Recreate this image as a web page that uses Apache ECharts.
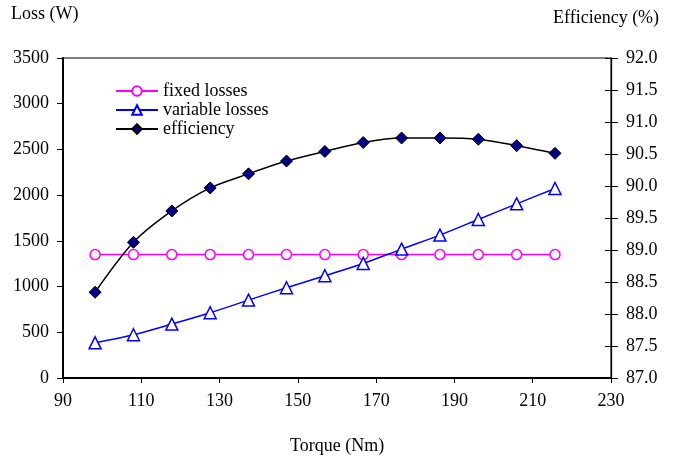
<!DOCTYPE html>
<html><head><meta charset="utf-8">
<script src="https://cdn.jsdelivr.net/npm/echarts@6/dist/echarts.min.js"></script>
<style>html,body{margin:0;padding:0;background:#fff}#c{width:676px;height:458px}</style>
</head><body><div id="c"></div>
<script>
var torque = [98.2, 108.0, 117.8, 127.6, 137.4, 147.1, 156.9, 166.7, 176.5, 186.3, 196.1, 205.9, 215.7];
var fixedLosses = [1350, 1350, 1350, 1350, 1350, 1350, 1350, 1350, 1350, 1350, 1350, 1350, 1350];
var variableLosses = [385, 473, 590, 714, 852, 987, 1118, 1253, 1410, 1563, 1734, 1905, 2073];
var efficiency = [88.34, 89.12, 89.61, 89.97, 90.19, 90.39, 90.54, 90.68, 90.75, 90.75, 90.73, 90.63, 90.51];
var xTicks = [90, 110, 130, 150, 170, 190, 210, 230];
var lossTicks = [0, 500, 1000, 1500, 2000, 2500, 3000, 3500];
var effTicks = [87.0, 87.5, 88.0, 88.5, 89.0, 89.5, 90.0, 90.5, 91.0, 91.5, 92.0];

function pairs(ys){ return torque.map(function(x,i){ return [x, ys[i]]; }); }
var FONT = 'Liberation Serif';
var chart = echarts.init(document.getElementById('c'), null, {renderer:'canvas'});
chart.setOption({
  animation:false,
  backgroundColor:'#fff',
  textStyle:{fontFamily:FONT},
  grid:{left:63, right:65, top:58, bottom:80, show:true, borderColor:'#000', borderWidth:1, containLabel:false},
  legend:{
    left:115, top:82, orient:'vertical', itemWidth:42, itemHeight:12, itemGap:1,
    padding:0,
    textStyle:{fontFamily:FONT, fontSize:18, lineHeight:18, color:'#000', padding:[0,0,0,0]},
    data:['fixed losses','variable losses','efficiency']
  },
  xAxis:{
    type:'value', min:xTicks[0], max:xTicks[xTicks.length-1], interval:20,
    axisLine:{lineStyle:{color:'#000', width:2}},
    axisTick:{show:true, length:5, lineStyle:{color:'#000'}},
    axisLabel:{fontFamily:FONT, fontSize:18, color:'#000', margin:14},
    splitLine:{show:false}
  },
  yAxis:[{
    type:'value', min:lossTicks[0], max:lossTicks[lossTicks.length-1], interval:500, position:'left',
    axisLine:{show:true, lineStyle:{color:'#000', width:2}},
    axisTick:{show:true, length:6, lineStyle:{color:'#000'}},
    axisLabel:{fontFamily:FONT, fontSize:18, color:'#000', margin:14, formatter:function(v){return String(v);}},
    splitLine:{show:false}
  },{
    type:'value', min:effTicks[0], max:effTicks[effTicks.length-1], interval:0.5, position:'right',
    axisLine:{show:true, lineStyle:{color:'#000', width:1.3}},
    axisTick:{show:true, length:7, lineStyle:{color:'#000'}},
    axisLabel:{fontFamily:FONT, fontSize:18, color:'#000', margin:15, formatter:function(v){return v.toFixed(1);}},
    splitLine:{show:false}
  },{
    type:'value', min:effTicks[0], max:effTicks[effTicks.length-1], interval:0.5, position:'right',
    axisLine:{show:false},
    axisTick:{show:true, inside:true, length:6, lineStyle:{color:'#000'}},
    axisLabel:{show:false},
    splitLine:{show:false}
  }],
  series:[{
    name:'fixed losses', type:'line', yAxisIndex:0, data:pairs(fixedLosses),
    symbol:'circle', symbolSize:10,
    lineStyle:{color:'#FF00FF', width:1.5},
    itemStyle:{color:'#fff', borderColor:'#FF00FF', borderWidth:1.5},
    z:3
  },{
    name:'variable losses', type:'line', yAxisIndex:0, data:pairs(variableLosses),
    symbol:'triangle', symbolSize:12, smooth:0.3,
    lineStyle:{color:'#0000FF', width:1.5},
    itemStyle:{color:'#fff', borderColor:'#0000FF', borderWidth:1.5},
    z:4
  },{
    name:'efficiency', type:'line', yAxisIndex:1, data:pairs(efficiency),
    symbol:'diamond', symbolSize:12, smooth:0.3,
    lineStyle:{color:'#000', width:1.5},
    itemStyle:{color:'#000080', borderColor:'#000', borderWidth:1},
    z:5
  }],
  graphic:[
    {type:'text', left:11, top:5, style:{text:'Loss (W)', font:'18px "Liberation Serif"', fill:'#000'}},
    {type:'text', left:553, top:9, style:{text:'Efficiency (%)', font:'18px "Liberation Serif"', fill:'#000'}},
    {type:'text', left:290, top:437, style:{text:'Torque (Nm)', font:'18px "Liberation Serif"', fill:'#000'}}
  ]
});
</script></body></html>
